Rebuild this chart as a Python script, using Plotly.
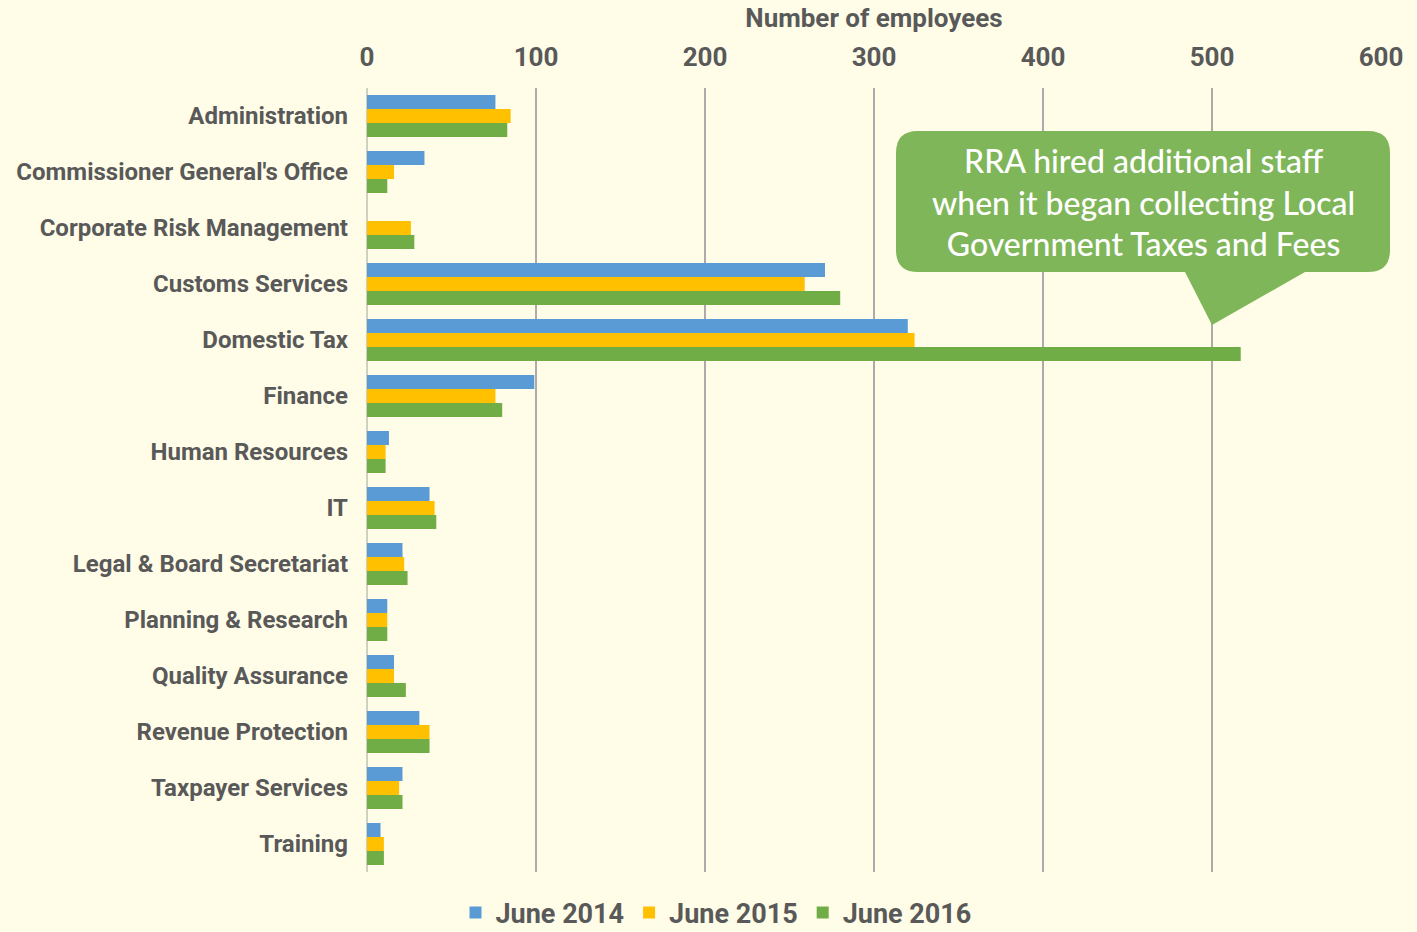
import plotly.graph_objects as go

categories = ["Administration", "Commissioner General's Office", "Corporate Risk Management",
              "Customs Services", "Domestic Tax", "Finance", "Human Resources", "IT",
              "Legal & Board Secretariat", "Planning & Research", "Quality Assurance",
              "Revenue Protection", "Taxpayer Services", "Training"]
june_2014 = [76, 34, 0, 271, 320, 99, 13, 37, 21, 12, 16, 31, 21, 8]
june_2015 = [85, 16, 26, 259, 324, 76, 11, 40, 22, 12, 16, 37, 19, 10]
june_2016 = [83, 12, 28, 280, 517, 80, 11, 41, 24, 12, 23, 37, 21, 10]
series_names = ["June 2014", "June 2015", "June 2016"]
colors = ["#5B9BD5", "#FFC000", "#70AD47"]
x_ticks = [0, 100, 200, 300, 400, 500, 600]
callout_text = "RRA hired additional staff<br>when it began collecting Local<br>Government Taxes and Fees"

BG = "#FFFDE8"
TXT = "#595959"
FONT = "Roboto, Arial, sans-serif"

fig = go.Figure()
for name, vals, col in zip(series_names, [june_2014, june_2015, june_2016], colors):
    fig.add_trace(go.Bar(y=categories, x=vals, name=name, orientation="h",
                         marker=dict(color=col, line=dict(width=0))))

W, H = 1417, 932
L, R, T, B = 367, 1381, 88, 872
def px2x(px):
    return (px - L) / (R - L)
def py2y(py):
    return (B - py) / (B - T)

x0, x1 = px2x(896), px2x(1390)
y0, y1 = py2y(272), py2y(131)
rx = px2x(896 + 22) - px2x(896)
ry = py2y(131) - py2y(131 + 22)
tb0, tb1 = px2x(1185), px2x(1305)
tipx, tipy = px2x(1212), py2y(325)
path = (f"M {x0+rx},{y1} L {x1-rx},{y1} Q {x1},{y1} {x1},{y1-ry} "
        f"L {x1},{y0+ry} Q {x1},{y0} {x1-rx},{y0} "
        f"L {tb1},{y0} L {tipx},{tipy} L {tb0},{y0} "
        f"L {x0+rx},{y0} Q {x0},{y0} {x0},{y0+ry} "
        f"L {x0},{y1-ry} Q {x0},{y1} {x0+rx},{y1} Z")
fig.add_shape(type="path", path=path, xref="paper", yref="paper",
              fillcolor="#7FB65A", line=dict(width=0), layer="above")
fig.add_annotation(x=px2x(1143), y=py2y(202), xref="paper", yref="paper",
                   xanchor="center", yanchor="middle",
                   text=callout_text, showarrow=False, align="center",
                   font=dict(family="Lato, Open Sans, sans-serif", size=32, color="white",
                             weight=500))

fig.update_layout(
    width=W, height=H,
    paper_bgcolor=BG, plot_bgcolor=BG,
    barmode="group", bargap=0.25, bargroupgap=0,
    margin=dict(l=L, r=W - R, t=T, b=H - B, autoexpand=False),
    font=dict(family=FONT, color=TXT),
    showlegend=True,
    legend=dict(orientation="h", x=(716) / W, xref="container", xanchor="center",
                y=(H - 913) / H, yref="container", yanchor="middle",
                font=dict(family=FONT, size=27, color=TXT, weight="bold"), traceorder="normal",
                itemwidth=30, bgcolor="rgba(0,0,0,0)"),
    xaxis=dict(side="top", range=[0, 600], tickvals=x_ticks, showgrid=True,
               gridcolor="#ABABAB", gridwidth=1.5, zeroline=True, zerolinecolor="#D0D0C0",
               zerolinewidth=2, showline=False, ticks="",
               tickfont=dict(family=FONT, size=26, color=TXT, weight="bold"), ticklabelstandoff=16,
               title=dict(text="Number of employees",
                          font=dict(family=FONT, size=26, color=TXT, weight="bold"),
                          standoff=6)),
    yaxis=dict(autorange="reversed", showgrid=False, showline=False, ticks="",
               tickfont=dict(family=FONT, size=24, color=TXT, weight="bold"), ticklabelstandoff=18),
)

fig.write_html("out.html", config={"displayModeBar": False},
               post_script="document.body.style.margin='0';")
